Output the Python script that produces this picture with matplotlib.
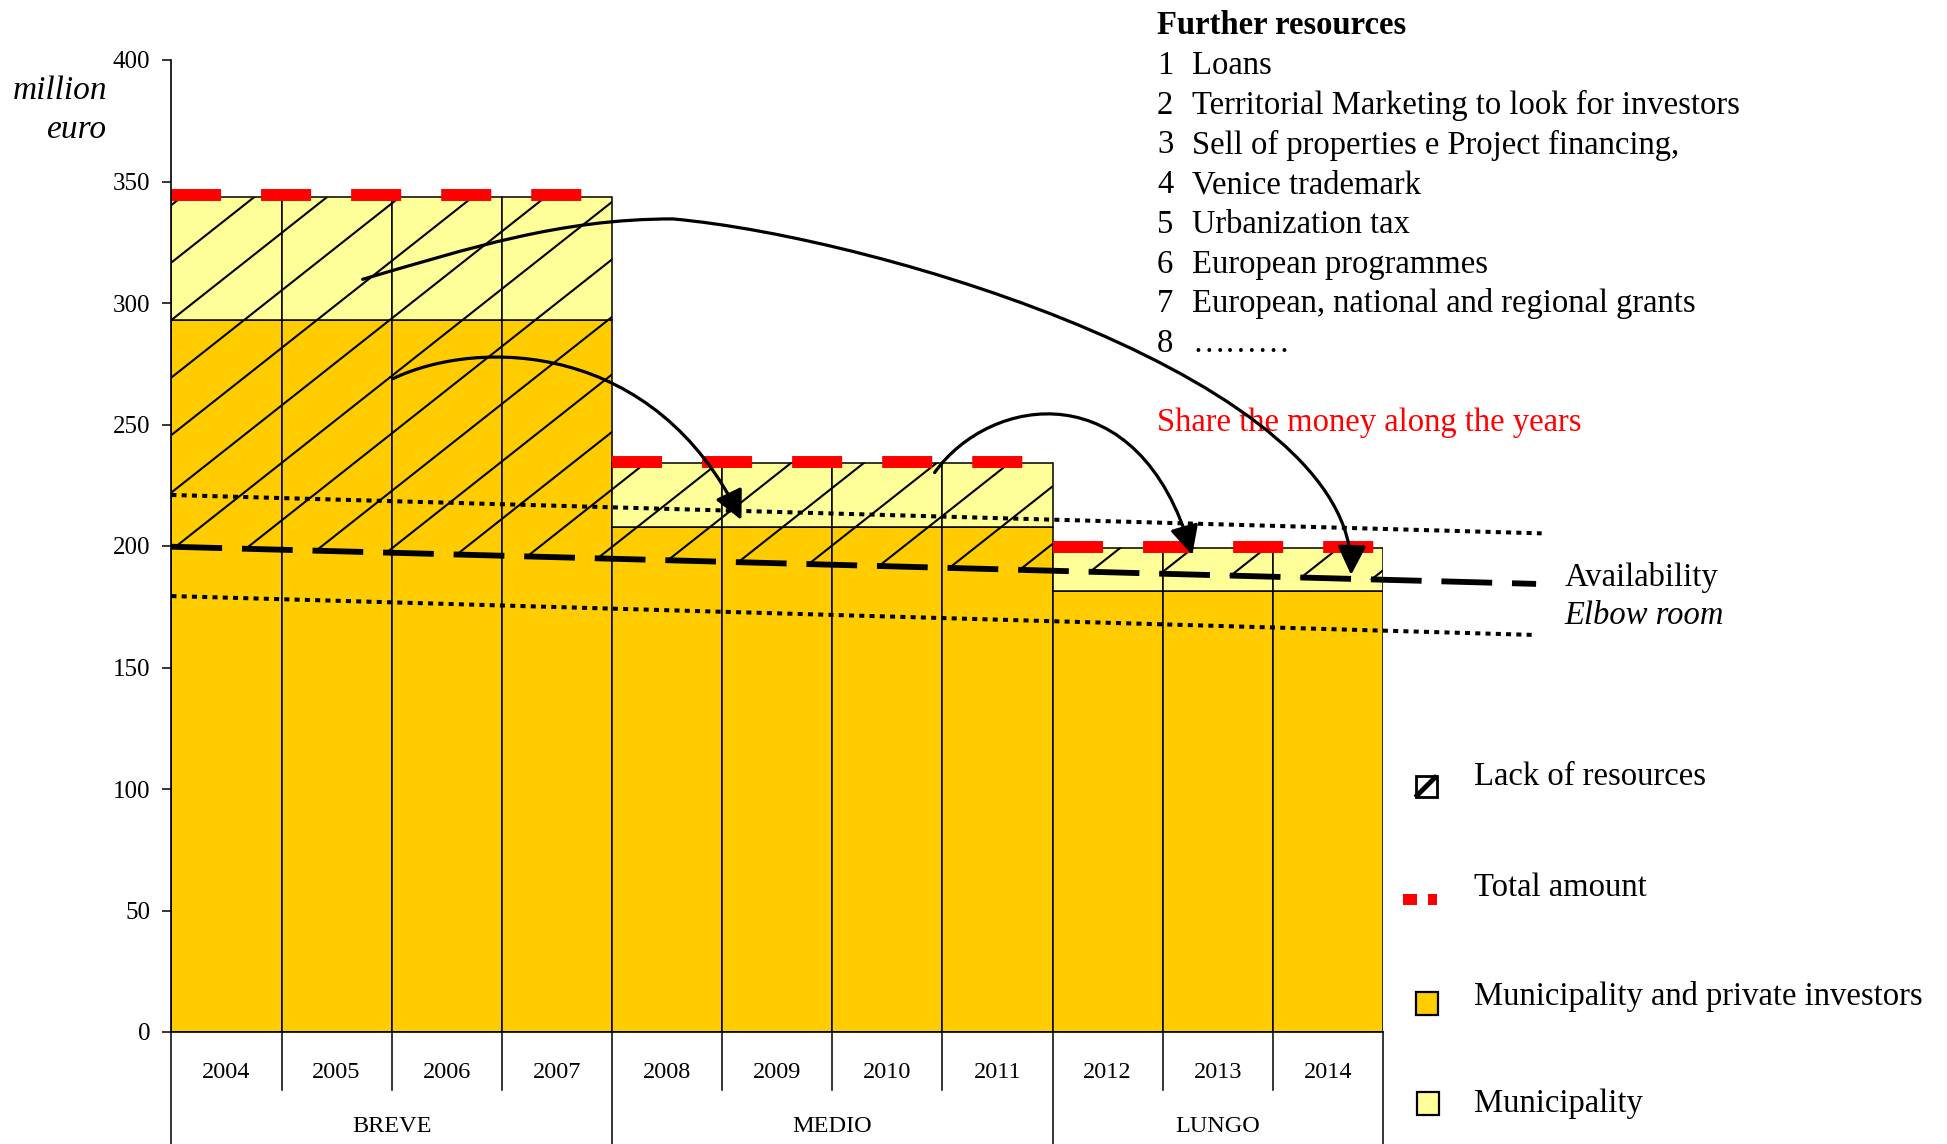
import numpy as np
import matplotlib
matplotlib.use("Agg")
import matplotlib.pyplot as plt
from matplotlib.patches import Rectangle, Polygon, FancyArrowPatch
from matplotlib.path import Path
from matplotlib.collections import LineCollection
from matplotlib.lines import Line2D

plt.rcParams['font.family'] = ['Liberation Serif', 'DejaVu Serif']

# ---------------- data ----------------
years = ['2004', '2005', '2006', '2007', '2008', '2009', '2010', '2011', '2012', '2013', '2014']
groups = ['BREVE', 'MEDIO', 'LUNGO']
group_sizes = [4, 4, 3]
mun_private = [293, 293, 293, 293, 208, 208, 208, 208, 181.5, 181.5, 181.5]
municipality = [50.5, 50.5, 50.5, 50.5, 26.3, 26.3, 26.3, 26.3, 17.8, 17.8, 17.8]
total_amount = [344.3, 234.7, 199.5]
availability_x = [-0.5, 11.89]
availability = [199.7, 184.4]
elbow_upper_x = [-0.5, 11.94]
elbow_upper = [221.0, 205.2]
elbow_lower_x = [-0.5, 11.87]
elbow_lower = [179.4, 163.4]
yticks = [0, 50, 100, 150, 200, 250, 300, 350, 400]
further_resources = ['Loans', 'Territorial Marketing to look for investors',
                     'Sell of properties e Project financing,', 'Venice trademark',
                     'Urbanization tax', 'European programmes',
                     'European, national and regional grants', '………']
legend_labels = ['Lack of resources', 'Total amount',
                 'Municipality and private investors', 'Municipality']
# curved arrows (data coords: cubic bezier control points)
arrow_paths = [
    [(1.236, 309.75), (2.210, 322.6), (3.026, 334.6), (4.052, 334.6),
     (5.930, 327.0), (10.26, 268.0), (10.210, 188.1)],
    [(1.508, 268.8), (2.300, 286.0), (3.900, 284.0), (4.675, 210.7)],
    [(6.429, 230.2), (6.928, 262.1), (8.289, 272.4), (8.768, 196.3)],
]

ORANGE = '#FFCC00'
YELLOW = '#FFFF99'

W, H = 1947, 1144
fig = plt.figure(figsize=(W / 100, H / 100), dpi=100)


def fx(px):
    return px / W


def fy(py):
    return 1 - py / H


TXT_OFF = 3.5  # pixel shift for vertically centred text

AX_L, AX_R, AX_T, AX_B = 171.4, 1383.0, 60.0, 1032.0
ax = fig.add_axes([fx(AX_L), fy(AX_B), (AX_R - AX_L) / W, (AX_B - AX_T) / H])
n = len(years)
x = np.arange(n)
ax.set_xlim(-0.5, n - 0.5)
ax.set_ylim(0, 400)

# bars
ax.bar(x, mun_private, width=1.0, color=ORANGE, edgecolor='black', linewidth=1.1, zorder=1)
ax.bar(x, municipality, width=1.0, bottom=mun_private, color=YELLOW, edgecolor='black',
       linewidth=1.1, zorder=1)

# hatch ("lack of resources") between availability and total
sx = (AX_R - AX_L) / n
sy = (AX_B - AX_T) / 400.0
m = 0.79 * sx / sy
dy = 57.5 / sy
segs = []
for k in range(-60, 60):
    y0 = mun_private[0] + k * dy
    segs.append([(-0.5, y0), (n - 0.5, y0 + m * n)])


def avail_at(xv):
    return np.interp(xv, availability_x, availability)


starts = np.cumsum([0] + group_sizes[:-1])
for g, (s, size) in enumerate(zip(starts, group_sizes)):
    x0, x1 = s - 0.5, s + size - 0.5
    top = mun_private[s] + municipality[s]
    poly = Polygon([(x0, avail_at(x0)), (x1, avail_at(x1)), (x1, top), (x0, top)],
                   closed=True, facecolor='none', edgecolor='none')
    ax.add_patch(poly)
    lc = LineCollection(segs, colors='black', linewidths=1.5, zorder=2)
    ax.add_collection(lc, autolim=False)
    lc.set_clip_path(poly)
    ax.plot([x0, x1], [total_amount[g]] * 2, color='red', lw=8.6,
            ls=(0, (4.19, 3.35)), dash_capstyle='butt', zorder=4, clip_on=False)

# availability / elbow room lines
ax.plot(availability_x, availability, color='black', lw=4.2, ls=(0, (8.7, 3.4)),
        dash_capstyle='butt', zorder=3, clip_on=False)
for lx, ly in [(elbow_upper_x, elbow_upper), (elbow_lower_x, elbow_lower)]:
    ax.plot(lx, ly, color='black', lw=2.9, ls=(0, (1.25, 1.3)),
            dash_capstyle='butt', zorder=3, clip_on=False)

# arrows
for pts in arrow_paths:
    codes = [Path.MOVETO] + [Path.CURVE4] * (len(pts) - 1)
    arr = FancyArrowPatch(path=Path(pts, codes), arrowstyle='-|>,head_length=0.89,head_width=0.44',
                          mutation_scale=20, lw=2.3, color='black', zorder=6,
                          transform=ax.transData, clip_on=False)
    ax.add_patch(arr)

# axes styling
for sp in ['top', 'right']:
    ax.spines[sp].set_visible(False)
ax.spines['left'].set_linewidth(1.2)
ax.spines['bottom'].set_linewidth(1.2)
ax.spines['left'].set_zorder(5)
ax.set_xticks([])
ax.set_yticks(yticks)
ax.tick_params(axis='y', length=6.5, width=1.1, labelsize=18, pad=8.6)

# category table below the axis
xt = ax.get_xaxis_transform()
y_year = (AX_B - 1069 - TXT_OFF) / (AX_B - AX_T)
y_group = (AX_B - 1122.5 - TXT_OFF) / (AX_B - AX_T)
y_sep_year = (AX_B - 1090) / (AX_B - AX_T)
y_sep_group = (AX_B - 1160) / (AX_B - AX_T)
for i, yr in enumerate(years):
    ax.text(i, y_year, yr, transform=xt, ha='center', va='center', size=17.5)
bounds = set(list(starts - 0.5) + [n - 0.5])
for b in np.arange(n + 1) - 0.5:
    ybot = y_sep_group if b in bounds else y_sep_year
    ax.plot([b, b], [0, ybot], transform=xt, color='black', lw=1.1, clip_on=False)
for g, (s, size) in enumerate(zip(starts, group_sizes)):
    ax.text(s + (size - 1) / 2, y_group, groups[g], transform=xt, ha='center',
            va='center', size=17.5)

ft = fig.transFigure


def ftext(px, py, s, **kw):
    kw.setdefault('ha', 'left')
    kw.setdefault('va', 'center')
    kw.setdefault('size', 23.5)
    ax.text(fx(px), fy(py + TXT_OFF), s, transform=ft, **kw)


# y label
ftext(107, 86.9, 'million', ha='right', style='italic', size=24)
ftext(107, 126.7, 'euro', ha='right', style='italic', size=24)

# further resources list
ftext(1157, 22.3, 'Further resources', weight='bold')
for i, item in enumerate(further_resources):
    yy = (50 + 32 * i) * 1.2417
    ftext(1157, yy, str(i + 1))
    ftext(1192, yy, item)
ftext(1157, 419.7, 'Share the money along the years', color='red', zorder=3)

ftext(1564.5, 573.7, 'Availability')
ftext(1564.5, 612, 'Elbow room', style='italic')

# legend (manual)
leg_y = [773.6, 884, 993, 1100]
for lab, yy in zip(legend_labels, leg_y):
    ftext(1474, yy, lab)


def frect(x0, y0, x1, y1, **kw):
    r = Rectangle((fx(x0), fy(y1)), (x1 - x0) / W, (y1 - y0) / H, transform=ft, **kw)
    fig.add_artist(r)


frect(1415.5, 776, 1436.6, 797, facecolor='white', edgecolor='black', linewidth=2)
fig.add_artist(Line2D([fx(1417), fx(1435)], [fy(795.5), fy(777.5)], transform=ft,
                      color='black', lw=3.5))
frect(1403, 894, 1417, 905, facecolor='red', edgecolor='none')
frect(1428, 894, 1437, 905, facecolor='red', edgecolor='none')
frect(1415.5, 992, 1438, 1014.5, facecolor=ORANGE, edgecolor='black', linewidth=1.6)
frect(1417, 1091.5, 1439, 1115, facecolor=YELLOW, edgecolor='black', linewidth=1.6)

fig.savefig('out.png', dpi=100)
